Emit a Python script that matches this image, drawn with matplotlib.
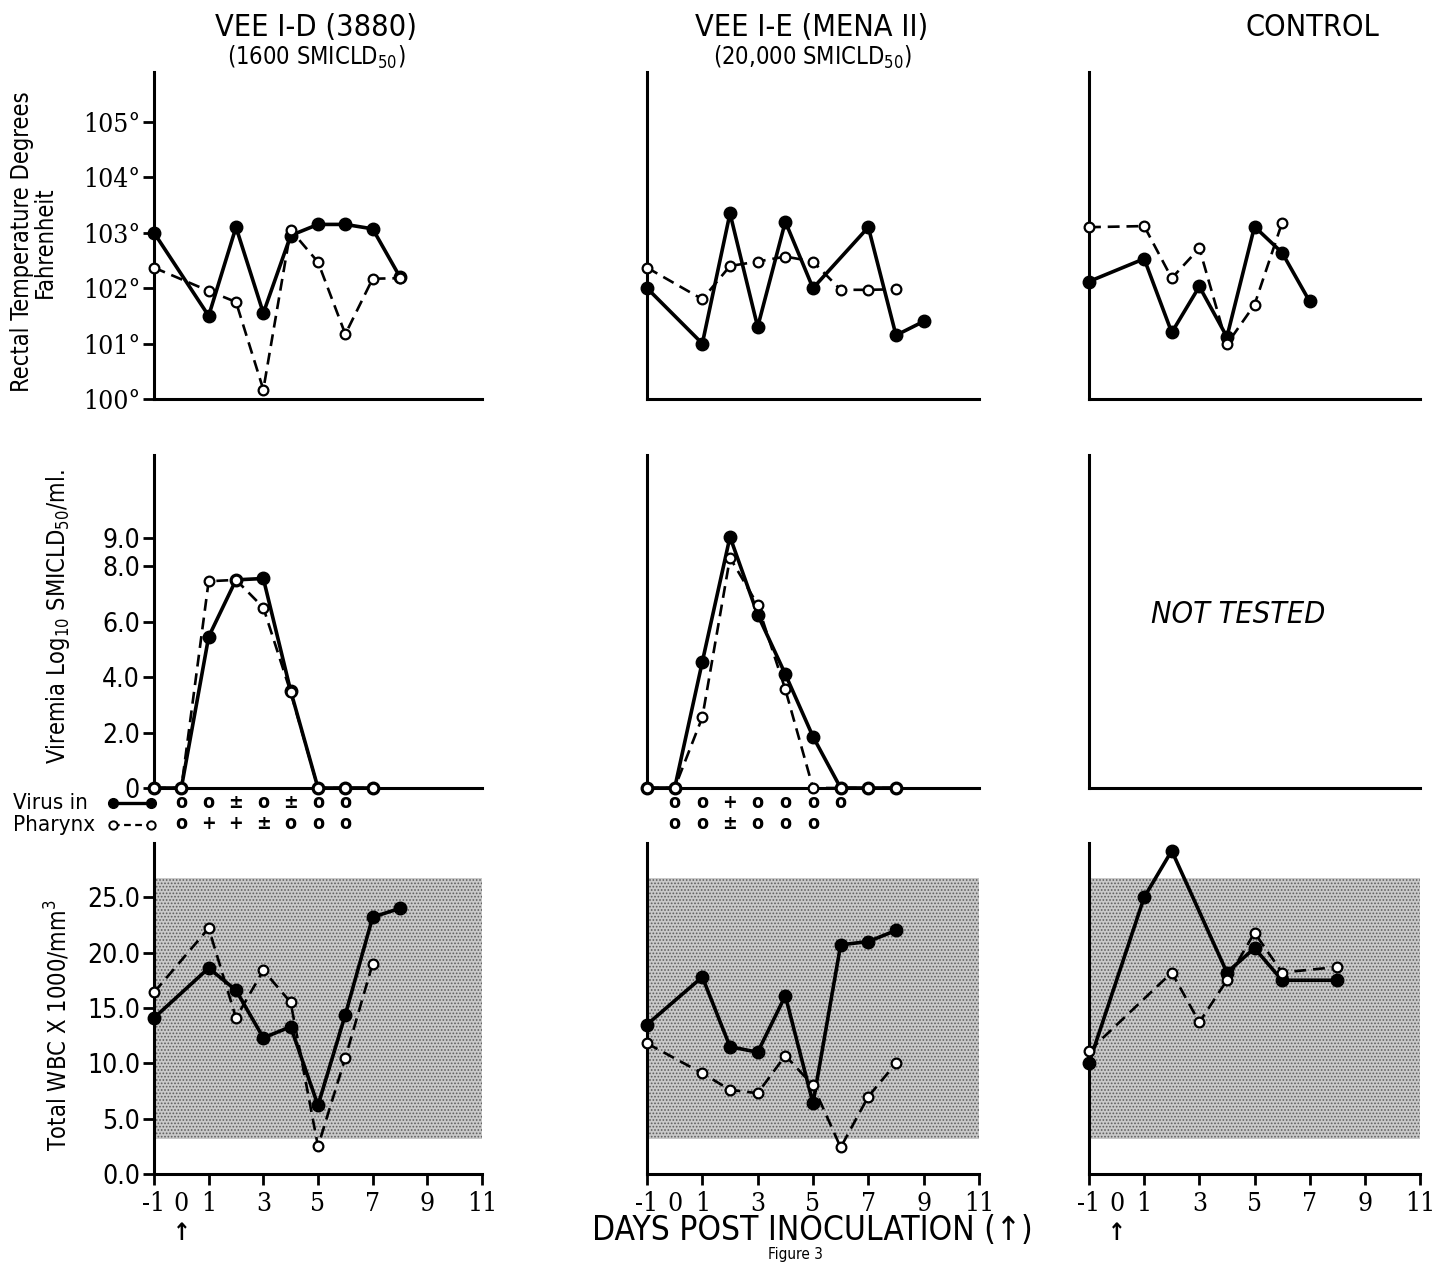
import matplotlib
matplotlib.use("Agg")
import matplotlib.pyplot as plt
import matplotlib.transforms as mtransforms

plt.rcParams['font.family'] = ['DejaVu Sans']
plt.rcParams['font.stretch'] = 'condensed'
plt.rcParams['hatch.linewidth'] = 0.8
plt.rcParams['hatch.color'] = '#5e5e5e'

W, H = 1437, 1263

# ---------------- datos ----------------
# Temperatura rectal (F)
temp_id_solid_days = [-1, 1, 2, 3, 4, 5, 6, 7, 8]
temp_id_solid = [103.0, 101.5, 103.1, 101.55, 102.95, 103.15, 103.15, 103.07, 102.2]
temp_id_dash_days = [-1, 1, 2, 3, 4, 5, 6, 7, 8]
temp_id_dash = [102.37, 101.95, 101.75, 100.17, 103.05, 102.47, 101.17, 102.17, 102.18]

temp_ie_solid_days = [-1, 1, 2, 3, 4, 5, 7, 8, 9]
temp_ie_solid = [102.0, 101.0, 103.35, 101.3, 103.2, 102.0, 103.1, 101.15, 101.4]
temp_ie_dash_days = [-1, 1, 2, 3, 4, 5, 6, 7, 8]
temp_ie_dash = [102.37, 101.8, 102.4, 102.48, 102.57, 102.48, 101.97, 101.97, 101.98]

temp_ctl_solid_days = [-1, 1, 2, 3, 4, 5, 6, 7]
temp_ctl_solid = [102.12, 102.53, 101.2, 102.03, 101.12, 103.11, 102.64, 101.76]
temp_ctl_dash_days = [-1, 1, 2, 3, 4, 5, 6]
temp_ctl_dash = [103.1, 103.12, 102.18, 102.72, 100.99, 101.7, 103.18]

# Viremia log10 SMICLD50/ml
vir_id_solid_days = [-1, 0, 1, 2, 3, 4, 5, 6, 7]
vir_id_solid = [0, 0, 5.45, 7.5, 7.55, 3.5, 0, 0, 0]
vir_id_dash_days = [-1, 0, 1, 2, 3, 4, 5, 6, 7]
vir_id_dash = [0, 0, 7.45, 7.5, 6.5, 3.45, 0, 0, 0]

vir_ie_solid_days = [-1, 0, 1, 2, 3, 4, 5, 6, 7, 8]
vir_ie_solid = [0, 0, 4.55, 9.05, 6.25, 4.1, 1.85, 0, 0, 0]
vir_ie_dash_days = [-1, 0, 1, 2, 3, 4, 5, 6, 7, 8]
vir_ie_dash = [0, 0, 2.55, 8.3, 6.6, 3.55, 0, 0, 0, 0]

# Virus en faringe (simbolos bajo el eje)
phx_id_virus_days = [0, 1, 2, 3, 4, 5, 6]
phx_id_virus = ['o', 'o', '±', 'o', '±', 'o', 'o']
phx_id_phar_days = [0, 1, 2, 3, 4, 5, 6]
phx_id_phar = ['o', '+', '+', '±', 'o', 'o', 'o']
phx_ie_virus_days = [0, 1, 2, 3, 4, 5, 6]
phx_ie_virus = ['o', 'o', '+', 'o', 'o', 'o', 'o']
phx_ie_phar_days = [0, 1, 2, 3, 4, 5]
phx_ie_phar = ['o', 'o', '±', 'o', 'o', 'o']

# WBC total x 1000/mm3
wbc_id_solid_days = [-1, 1, 2, 3, 4, 5, 6, 7, 8]
wbc_id_solid = [14.1, 18.6, 16.6, 12.3, 13.3, 6.2, 14.4, 23.2, 24.0]
wbc_id_dash_days = [-1, 1, 2, 3, 4, 5, 6, 7]
wbc_id_dash = [16.4, 22.2, 14.1, 18.4, 15.5, 2.5, 10.5, 19.0]

wbc_ie_solid_days = [-1, 1, 2, 3, 4, 5, 6, 7, 8]
wbc_ie_solid = [13.5, 17.8, 11.5, 11.0, 16.1, 6.4, 20.7, 21.0, 22.0]
wbc_ie_dash_days = [-1, 1, 2, 3, 4, 5, 6, 7, 8]
wbc_ie_dash = [11.8, 9.1, 7.6, 7.3, 10.7, 8.0, 2.4, 7.0, 10.0]

wbc_ctl_solid_days = [-1, 1, 2, 4, 5, 6, 8]
wbc_ctl_solid = [10.0, 25.0, 29.2, 18.2, 20.4, 17.5, 17.5]
wbc_ctl_dash_days = [-1, 2, 3, 4, 5, 6, 8]
wbc_ctl_dash = [11.1, 18.2, 13.7, 17.5, 21.8, 18.2, 18.7]

wbc_normal_range = (3.2, 26.7)

titles = ['VEE I-D (3880)', 'VEE I-E (MENA II)', 'CONTROL']
subtitles = ['(1600 SMICLD$_{50}$)', '(20,000 SMICLD$_{50}$)', '']
temp_ticks = [100, 101, 102, 103, 104, 105]
vir_ticks = [0, 2, 4, 6, 8, 9]
vir_ticklabels = ['0', '2.0', '4.0', '6.0', '8.0', '9.0']
wbc_ticks = [0, 5, 10, 15, 20, 25]
wbc_ticklabels = ['0.0', '5.0', '10.0', '15.0', '20.0', '25.0']
day_ticks = [-1, 1, 3, 5, 7, 9, 11]

# ---------------- figura ----------------
fig = plt.figure(figsize=(W / 100, H / 100), dpi=100)

cols = [(154, 482), (647, 979), (1089, 1420)]
rows = [(72, 399), (455, 788), (843, 1174)]


def rect(c, r):
    x0, x1 = c
    y0, y1 = r
    return [x0 / W, 1 - y1 / H, (x1 - x0) / W, (y1 - y0) / H]


SOLID = dict(color='black', lw=2.6, marker='o', ms=9, mfc='black', mec='black',
             clip_on=False, zorder=4)
DASH = dict(color='black', lw=1.9, ls=(0, (4.5, 2.6)), marker='o', ms=7, mfc='white',
            mec='black', mew=1.6, clip_on=False, zorder=5)


def base(ax):
    for s in ['top', 'right']:
        ax.spines[s].set_visible(False)
    ax.spines['left'].set_linewidth(2.2)
    ax.spines['bottom'].set_linewidth(2.2)
    ax.set_xlim(-1, 11)
    ax.set_facecolor('none')


axes = [[fig.add_axes(rect(c, r)) for c in cols] for r in rows]

# fila 1: temperatura
temp_data = [(temp_id_solid_days, temp_id_solid, temp_id_dash_days, temp_id_dash),
             (temp_ie_solid_days, temp_ie_solid, temp_ie_dash_days, temp_ie_dash),
             (temp_ctl_solid_days, temp_ctl_solid, temp_ctl_dash_days, temp_ctl_dash)]
for j, ax in enumerate(axes[0]):
    base(ax)
    ax.set_ylim(100, 105.9)
    sd, sv, dd, dv = temp_data[j]
    ax.plot(dd, dv, **DASH)
    ax.plot(sd, sv, **SOLID)
    ax.set_xticks([])
    if j == 0:
        ax.set_yticks(temp_ticks)
        ax.set_yticklabels(['%d°' % t for t in temp_ticks], family='DejaVu Serif')
    else:
        ax.set_yticks([])

# fila 2: viremia
vir_data = [(vir_id_solid_days, vir_id_solid, vir_id_dash_days, vir_id_dash),
            (vir_ie_solid_days, vir_ie_solid, vir_ie_dash_days, vir_ie_dash)]
for j, ax in enumerate(axes[1]):
    base(ax)
    ax.set_ylim(0, 12.0)
    ax.set_xticks([])
    if j < 2:
        sd, sv, dd, dv = vir_data[j]
        ax.plot(dd, dv, **DASH)
        ax.plot(sd, sv, **SOLID)
    if j == 0:
        ax.set_yticks(vir_ticks)
        ax.set_yticklabels(vir_ticklabels)
    else:
        ax.set_yticks([])
axes[1][2].text(0.45, 0.52, 'NOT TESTED', transform=axes[1][2].transAxes,
                ha='center', va='center', fontsize=22, style='italic')

# simbolos de virus en faringe
phx = [(phx_id_virus_days, phx_id_virus, phx_id_phar_days, phx_id_phar),
       (phx_ie_virus_days, phx_ie_virus, phx_ie_phar_days, phx_ie_phar)]
for j in range(2):
    ax = axes[1][j]
    tr = mtransforms.blended_transform_factory(ax.transData, ax.transAxes)
    vd, vs, pd_, ps = phx[j]
    for d, s in zip(vd, vs):
        ax.text(d, -0.045, s, transform=tr, ha='center', va='center', fontsize=14,
                fontweight='bold')
    for d, s in zip(pd_, ps):
        ax.text(d, -0.108, s, transform=tr, ha='center', va='center', fontsize=14,
                fontweight='bold')

fig.text(13 / W, 1 - 803 / H, 'Virus in', ha='left', va='center', fontsize=16)
fig.text(13 / W, 1 - 825 / H, 'Pharynx', ha='left', va='center', fontsize=16)
fig.add_artist(plt.Line2D([113 / W, 151 / W], [1 - 803 / H, 1 - 803 / H], color='black',
                          lw=2.4, marker='o', ms=7))
fig.add_artist(plt.Line2D([113 / W, 151 / W], [1 - 825 / H, 1 - 825 / H], color='black',
                          lw=1.6, ls=(0, (3, 2)), marker='o', ms=6, mfc='white', mew=1.4))

# fila 3: WBC
wbc_data = [(wbc_id_solid_days, wbc_id_solid, wbc_id_dash_days, wbc_id_dash),
            (wbc_ie_solid_days, wbc_ie_solid, wbc_ie_dash_days, wbc_ie_dash),
            (wbc_ctl_solid_days, wbc_ctl_solid, wbc_ctl_dash_days, wbc_ctl_dash)]
for j, ax in enumerate(axes[2]):
    base(ax)
    ax.set_ylim(0, 29.9)
    ax.axhspan(wbc_normal_range[0], wbc_normal_range[1], facecolor='#c9c9c9',
               hatch='.....', edgecolor='#5e5e5e', lw=0, zorder=1)
    sd, sv, dd, dv = wbc_data[j]
    ax.plot(dd, dv, **DASH)
    ax.plot(sd, sv, **SOLID)
    ax.set_xticks(day_ticks)
    ax.set_xticklabels([str(d) for d in day_ticks], family='DejaVu Serif')
    ax.set_xticks([0], minor=True)
    ax.set_xticklabels(['0'], minor=True, family='DejaVu Serif')
    ax.tick_params(axis='x', which='minor', length=0, labelsize=19, pad=12)
    if j == 0:
        ax.set_yticks(wbc_ticks)
        ax.set_yticklabels(wbc_ticklabels)
    else:
        ax.set_yticks([])
    if j != 1:
        tr = mtransforms.blended_transform_factory(ax.transData, fig.transFigure)
        ax.text(0, 1 - 1233 / H, '↑', transform=tr,
                ha='center', va='center', fontsize=17, fontweight='bold')

for row in axes:
    for ax in row:
        ax.tick_params(axis='y', which='major', direction='out', length=8, width=2,
                       labelsize=19, pad=2)
        ax.tick_params(axis='x', which='major', direction='out', length=8, width=2,
                       labelsize=19, pad=4)

# titulos
title_x = [316, 812, 1312]
for j in range(3):
    fig.text(title_x[j] / W, 1 - 28 / H, titles[j], ha='center', va='center', fontsize=22)
    if subtitles[j]:
        fig.text(title_x[j] / W, 1 - 57 / H, subtitles[j], ha='center', va='center',
                 fontsize=17)

# etiquetas de eje y
fig.text(22 / W, 1 - 242 / H, 'Rectal Temperature Degrees', rotation=90,
         ha='center', va='center', fontsize=17)
fig.text(45 / W, 1 - 242 / H, 'Fahrenheit', rotation=90, ha='center', va='center',
         fontsize=17)
fig.text(58 / W, 1 - 617 / H, 'Viremia Log$_{10}$ SMICLD$_{50}$/ml.', rotation=90,
         ha='center', va='center', fontsize=17)
fig.text(57 / W, 1 - 1025 / H, 'Total WBC X 1000/mm$^3$', rotation=90,
         ha='center', va='center', fontsize=17)

fig.text(812 / W, 1 - 1230 / H, 'DAYS POST INOCULATION (↑)', ha='center', va='center',
         fontsize=24)
fig.text(795 / W, 1 - 1262 / H, 'Figure 3', ha='center', va='bottom', fontsize=11)

fig.savefig('out.png', dpi=100)
